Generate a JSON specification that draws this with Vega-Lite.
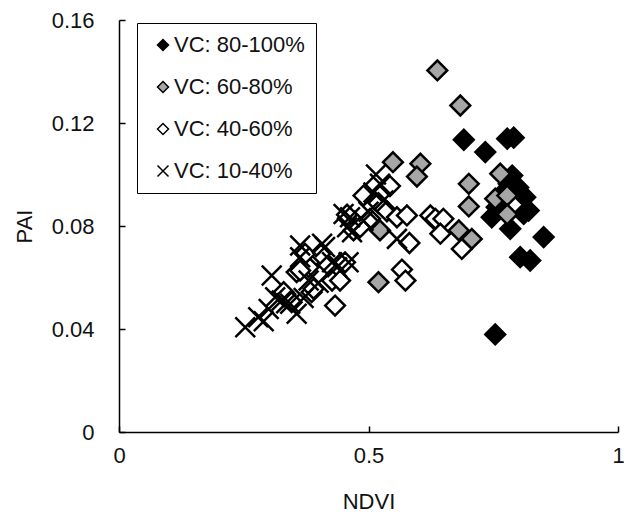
{
  "$schema": "https://vega.github.io/schema/vega-lite/v6.json",
  "width": 499,
  "height": 412,
  "autosize": "none",
  "padding": {"left": 119, "top": 20, "right": 15, "bottom": 88},
  "background": "white",
  "config": {
    "view": {"stroke": null},
    "font": "Liberation Sans",
    "axis": {
      "grid": false,
      "domainColor": "black",
      "domainWidth": 1.5,
      "tickColor": "black",
      "tickWidth": 1.5,
      "labelFont": "Liberation Sans",
      "labelFontSize": 22,
      "labelColor": "#111",
      "titleFont": "Liberation Sans",
      "titleFontSize": 22,
      "titleFontWeight": "normal",
      "titleColor": "#111"
    }
  },
  "data": {
    "values": [
      {"ndvi": 0.691, "pai": 0.1135, "vc": "VC: 80-100%"},
      {"ndvi": 0.734, "pai": 0.1087, "vc": "VC: 80-100%"},
      {"ndvi": 0.778, "pai": 0.1139, "vc": "VC: 80-100%"},
      {"ndvi": 0.791, "pai": 0.1143, "vc": "VC: 80-100%"},
      {"ndvi": 0.788, "pai": 0.0996, "vc": "VC: 80-100%"},
      {"ndvi": 0.781, "pai": 0.0964, "vc": "VC: 80-100%"},
      {"ndvi": 0.814, "pai": 0.0912, "vc": "VC: 80-100%"},
      {"ndvi": 0.821, "pai": 0.086, "vc": "VC: 80-100%"},
      {"ndvi": 0.811, "pai": 0.0847, "vc": "VC: 80-100%"},
      {"ndvi": 0.747, "pai": 0.0834, "vc": "VC: 80-100%"},
      {"ndvi": 0.784, "pai": 0.0789, "vc": "VC: 80-100%"},
      {"ndvi": 0.757, "pai": 0.0873, "vc": "VC: 80-100%"},
      {"ndvi": 0.851, "pai": 0.0757, "vc": "VC: 80-100%"},
      {"ndvi": 0.804, "pai": 0.0679, "vc": "VC: 80-100%"},
      {"ndvi": 0.824, "pai": 0.0666, "vc": "VC: 80-100%"},
      {"ndvi": 0.754, "pai": 0.0379, "vc": "VC: 80-100%"},
      {"ndvi": 0.77, "pai": 0.093, "vc": "VC: 80-100%"},
      {"ndvi": 0.8, "pai": 0.095, "vc": "VC: 80-100%"},

      {"ndvi": 0.638, "pai": 0.1404, "vc": "VC: 60-80%"},
      {"ndvi": 0.684, "pai": 0.1268, "vc": "VC: 60-80%"},
      {"ndvi": 0.549, "pai": 0.1048, "vc": "VC: 60-80%"},
      {"ndvi": 0.604, "pai": 0.1042, "vc": "VC: 60-80%"},
      {"ndvi": 0.597, "pai": 0.0992, "vc": "VC: 60-80%"},
      {"ndvi": 0.701, "pai": 0.0964, "vc": "VC: 60-80%"},
      {"ndvi": 0.701, "pai": 0.0876, "vc": "VC: 60-80%"},
      {"ndvi": 0.764, "pai": 0.1003, "vc": "VC: 60-80%"},
      {"ndvi": 0.754, "pai": 0.0906, "vc": "VC: 60-80%"},
      {"ndvi": 0.778, "pai": 0.0918, "vc": "VC: 60-80%"},
      {"ndvi": 0.778, "pai": 0.0845, "vc": "VC: 60-80%"},
      {"ndvi": 0.681, "pai": 0.0783, "vc": "VC: 60-80%"},
      {"ndvi": 0.707, "pai": 0.075, "vc": "VC: 60-80%"},
      {"ndvi": 0.523, "pai": 0.0783, "vc": "VC: 60-80%"},
      {"ndvi": 0.52, "pai": 0.0582, "vc": "VC: 60-80%"},
      {"ndvi": 0.63, "pai": 0.083, "vc": "VC: 60-80%"},

      {"ndvi": 0.49, "pai": 0.0918, "vc": "VC: 40-60%"},
      {"ndvi": 0.52, "pai": 0.0889, "vc": "VC: 40-60%"},
      {"ndvi": 0.543, "pai": 0.0955, "vc": "VC: 40-60%"},
      {"ndvi": 0.537, "pai": 0.0857, "vc": "VC: 40-60%"},
      {"ndvi": 0.557, "pai": 0.0834, "vc": "VC: 40-60%"},
      {"ndvi": 0.577, "pai": 0.0841, "vc": "VC: 40-60%"},
      {"ndvi": 0.582, "pai": 0.0734, "vc": "VC: 40-60%"},
      {"ndvi": 0.47, "pai": 0.0783, "vc": "VC: 40-60%"},
      {"ndvi": 0.457, "pai": 0.0844, "vc": "VC: 40-60%"},
      {"ndvi": 0.503, "pai": 0.0828, "vc": "VC: 40-60%"},
      {"ndvi": 0.483, "pai": 0.0795, "vc": "VC: 40-60%"},
      {"ndvi": 0.624, "pai": 0.0841, "vc": "VC: 40-60%"},
      {"ndvi": 0.634, "pai": 0.0828, "vc": "VC: 40-60%"},
      {"ndvi": 0.65, "pai": 0.0828, "vc": "VC: 40-60%"},
      {"ndvi": 0.644, "pai": 0.077, "vc": "VC: 40-60%"},
      {"ndvi": 0.687, "pai": 0.0711, "vc": "VC: 40-60%"},
      {"ndvi": 0.567, "pai": 0.0631, "vc": "VC: 40-60%"},
      {"ndvi": 0.574, "pai": 0.0588, "vc": "VC: 40-60%"},
      {"ndvi": 0.433, "pai": 0.0491, "vc": "VC: 40-60%"},
      {"ndvi": 0.356, "pai": 0.0621, "vc": "VC: 40-60%"},
      {"ndvi": 0.38, "pai": 0.064, "vc": "VC: 40-60%"},
      {"ndvi": 0.386, "pai": 0.0543, "vc": "VC: 40-60%"},
      {"ndvi": 0.417, "pai": 0.0653, "vc": "VC: 40-60%"},
      {"ndvi": 0.427, "pai": 0.0588, "vc": "VC: 40-60%"},
      {"ndvi": 0.403, "pai": 0.0692, "vc": "VC: 40-60%"},
      {"ndvi": 0.373, "pai": 0.0692, "vc": "VC: 40-60%"},
      {"ndvi": 0.33, "pai": 0.0543, "vc": "VC: 40-60%"},
      {"ndvi": 0.346, "pai": 0.0504, "vc": "VC: 40-60%"},
      {"ndvi": 0.453, "pai": 0.0659, "vc": "VC: 40-60%"},
      {"ndvi": 0.443, "pai": 0.0588, "vc": "VC: 40-60%"},
      {"ndvi": 0.39, "pai": 0.0556, "vc": "VC: 40-60%"},
      {"ndvi": 0.363, "pai": 0.0627, "vc": "VC: 40-60%"},

      {"ndvi": 0.523, "pai": 0.0964, "vc": "VC: 10-40%"},
      {"ndvi": 0.53, "pai": 0.0899, "vc": "VC: 10-40%"},
      {"ndvi": 0.45, "pai": 0.0847, "vc": "VC: 10-40%"},
      {"ndvi": 0.463, "pai": 0.0834, "vc": "VC: 10-40%"},
      {"ndvi": 0.467, "pai": 0.0776, "vc": "VC: 10-40%"},
      {"ndvi": 0.557, "pai": 0.075, "vc": "VC: 10-40%"},
      {"ndvi": 0.413, "pai": 0.0718, "vc": "VC: 10-40%"},
      {"ndvi": 0.46, "pai": 0.0659, "vc": "VC: 10-40%"},
      {"ndvi": 0.437, "pai": 0.064, "vc": "VC: 10-40%"},
      {"ndvi": 0.363, "pai": 0.0724, "vc": "VC: 10-40%"},
      {"ndvi": 0.407, "pai": 0.0731, "vc": "VC: 10-40%"},
      {"ndvi": 0.306, "pai": 0.0608, "vc": "VC: 10-40%"},
      {"ndvi": 0.363, "pai": 0.0679, "vc": "VC: 10-40%"},
      {"ndvi": 0.326, "pai": 0.0511, "vc": "VC: 10-40%"},
      {"ndvi": 0.343, "pai": 0.0498, "vc": "VC: 10-40%"},
      {"ndvi": 0.356, "pai": 0.0459, "vc": "VC: 10-40%"},
      {"ndvi": 0.279, "pai": 0.0446, "vc": "VC: 10-40%"},
      {"ndvi": 0.253, "pai": 0.0407, "vc": "VC: 10-40%"},
      {"ndvi": 0.3, "pai": 0.0478, "vc": "VC: 10-40%"},
      {"ndvi": 0.313, "pai": 0.0523, "vc": "VC: 10-40%"},
      {"ndvi": 0.38, "pai": 0.0588, "vc": "VC: 10-40%"},
      {"ndvi": 0.427, "pai": 0.0659, "vc": "VC: 10-40%"},
      {"ndvi": 0.457, "pai": 0.0795, "vc": "VC: 10-40%"},
      {"ndvi": 0.51, "pai": 0.093, "vc": "VC: 10-40%"},
      {"ndvi": 0.49, "pai": 0.082, "vc": "VC: 10-40%"},
      {"ndvi": 0.4, "pai": 0.058, "vc": "VC: 10-40%"},
      {"ndvi": 0.37, "pai": 0.052, "vc": "VC: 10-40%"},
      {"ndvi": 0.335, "pai": 0.05, "vc": "VC: 10-40%"},
      {"ndvi": 0.29, "pai": 0.043, "vc": "VC: 10-40%"},
      {"ndvi": 0.5, "pai": 0.0855, "vc": "VC: 10-40%"},
      {"ndvi": 0.515, "pai": 0.1, "vc": "VC: 10-40%"}
    ]
  },
  "mark": {"type": "point", "size": 390, "strokeWidth": 2.5, "opacity": 1},
  "encoding": {
    "x": {
      "field": "ndvi",
      "type": "quantitative",
      "scale": {"domain": [0, 1], "nice": false, "zero": true},
      "axis": {
        "title": "NDVI",
        "values": [0, 0.5, 1],
        "labelExpr": "datum.value == 0 ? '0' : datum.value == 1 ? '1' : '0.5'",
        "labelFlush": false,
        "tickSize": -6,
        "labelPadding": 19,
        "titlePadding": 25
      }
    },
    "y": {
      "field": "pai",
      "type": "quantitative",
      "scale": {"domain": [0, 0.16], "nice": false},
      "axis": {
        "title": "PAI",
        "values": [0, 0.04, 0.08, 0.12, 0.16],
        "labelExpr": "datum.value == 0 ? '0' : format(datum.value, '.2f')",
        "labelFlush": false,
        "tickSize": -6,
        "labelPadding": 31,
        "titleX": -95,
        "titleY": 206,
        "titleAngle": 270,
        "titleAlign": "center",
        "titleBaseline": "middle"
      }
    },
    "fill": {
      "field": "vc",
      "type": "nominal",
      "scale": {
        "domain": ["VC: 80-100%", "VC: 60-80%", "VC: 40-60%", "VC: 10-40%"],
        "range": ["black", "#a6a6a6", "white", "white"]
      },
      "legend": null
    },
    "stroke": {
      "field": "vc",
      "type": "nominal",
      "scale": {
        "domain": ["VC: 80-100%", "VC: 60-80%", "VC: 40-60%", "VC: 10-40%"],
        "range": ["black", "black", "black", "black"]
      },
      "legend": null
    },
    "shape": {
      "field": "vc",
      "type": "nominal",
      "scale": {
        "domain": ["VC: 80-100%", "VC: 60-80%", "VC: 40-60%", "VC: 10-40%"],
        "range": ["diamond", "diamond", "diamond", "M-1,-1L1,1M-1,1L1,-1"]
      },
      "legend": {
        "title": null,
        "orient": "none",
        "legendX": 18,
        "legendY": 3,
        "strokeColor": "black",
        "padding": 11,
        "rowPadding": 20,
        "labelFont": "Liberation Sans",
        "labelFontSize": 22,
        "labelColor": "#111",
        "labelLimit": 300,
        "symbolSize": 121,
        "symbolStrokeWidth": 1.5,
        "symbolStrokeColor": "black",
        "symbolOffset": 4,
        "labelOffset": 0,
        "columnPadding": 0
      }
    }
  }
}
